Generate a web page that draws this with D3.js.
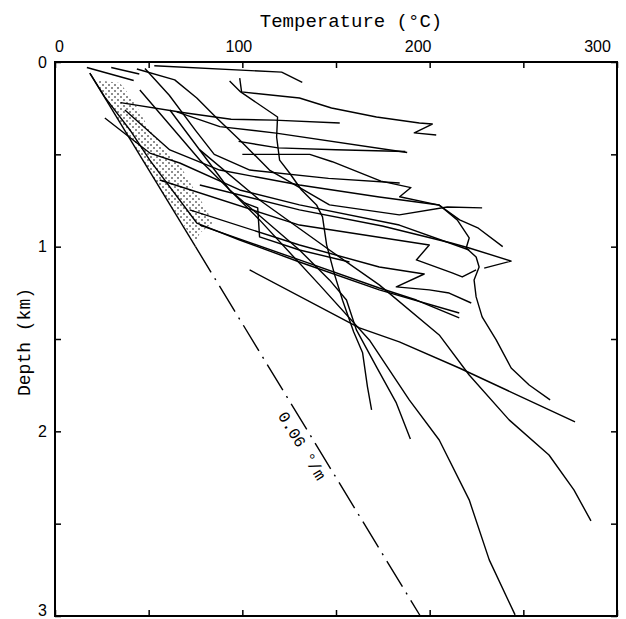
<!DOCTYPE html>
<html>
<head>
<meta charset="utf-8">
<script src="https://cdn.jsdelivr.net/npm/d3@7"></script>
<style>
body { margin: 0; background: #fff; }
</style>
</head>
<body>
<script>
var w = 626;
var h = 619;

// axis ticks
var xTicks = [0, 50, 100, 150, 200, 250, 300];
var xLabels = [0, 100, 200, 300];
var yTicks = [0, 0.5, 1, 1.5, 2, 2.5, 3];

// 0.06 deg/m reference gradient (T in degC, depth in km)
var gradSolid = [[18.6, 0.06], [75, 1.0]];
var gradDash = [[75, 1.0], [195, 3.0]];
var gradLabel = "0.06 °/m";

// stippled zone
var stipple = [[24,0.1],[34.6,0.114],[38.9,0.168],[43.7,0.244],[50.6,0.368],[55.9,0.439],
  [62.9,0.514],[68.2,0.585],[73.5,0.677],[81,0.801],[84.2,0.872],[77.3,0.926],[75,0.98],
  [55,0.67],[35,0.33],[22,0.12]];

// well profiles [temperature, depth]
var p01 = [[53,0.02],[121,0.055],[132,0.11]];
var p02 = [[17,0.03],[42,0.1]];
var p03 = [[30,0.03],[45,0.065]];
var p04 = [[93.2,0.103],[99.1,0.162],[118.8,0.298],[118.3,0.406],[119.9,0.531],[125.2,0.601],
  [131.6,0.693],[139.6,0.774],[142.8,0.839],[145,0.99],[149.2,1.15],[153.5,1.29],[159.4,1.461],
  [164.2,1.575],[166.8,1.759],[169,1.884]];
var p05 = [[98.6,0.087],[99.6,0.162],[130.5,0.195],[147.6,0.249],[171.6,0.298],[194.5,0.33],
  [201.4,0.336],[191.8,0.384],[203.5,0.395]];
var p06 = [[35,0.22],[69,0.275],[94,0.31],[117,0.315],[152,0.33]];
var p07 = [[65,0.27],[88,0.35],[118,0.385],[188,0.49]];
var p08 = [[98,0.43],[119,0.465],[150,0.475],[187,0.485]];
var p09 = [[100,0.5],[136,0.5],[148,0.54],[174,0.645],[190,0.68],[184,0.73],[205,0.775],
  [216,0.855],[226,0.9],[239,1.0]];
var p10 = [[37.3,0.26],[61.3,0.476],[87.9,0.585],[130.5,0.666],[173.1,0.731],[205.1,0.774],
  [214.7,0.855],[221.1,0.953],[219.5,1.007],[224.8,1.056],[226.4,1.11],[223.7,1.18],
  [224.8,1.272],[228,1.38],[235.5,1.505],[243.5,1.657],[253.1,1.749],[264.3,1.83]];
var p11 = [[77.3,0.666],[130.5,0.801],[174.7,0.888],[211.5,0.98],[221.1,1.007],[243.5,1.078],[229.1,1.116]];
var p12 = [[55.9,0.639],[130.5,0.883],[199.8,0.991],[192.9,1.072],[212,1.142],[217.4,1.164],[224.8,1.126]];
var p13 = [[71.9,0.801],[130.5,0.991],[173.1,1.11],[197.1,1.148],[182.2,1.218],[199.8,1.234],
  [210.4,1.251],[222.2,1.305]];
var p14 = [[77.3,0.883],[130.5,1.072],[173.1,1.224],[192.9,1.289],[215.8,1.386]];
var p15 = [[103.9,1.126],[162.5,1.44],[183.8,1.516],[215.8,1.657],[277.6,1.949]];
var p16 = [[77.3,0.476],[109.2,0.747],[146.5,1.018],[173.1,1.207],[205.1,1.478],[221.1,1.695],
  [242.4,1.938],[263.7,2.128],[277,2.317],[286.1,2.485]];
var p17 = [[45.3,0.152],[77.3,0.531],[109.2,0.855],[141.2,1.207],[167.8,1.505],[189.1,1.83],
  [205.1,2.047],[221.1,2.371],[231.8,2.696],[245.6,2.994]];
var p18 = [[61.3,0.26],[93.2,0.693],[130.5,1.018],[146.5,1.18],[155.6,1.289],[160.9,1.451],
  [171.6,1.651],[182.2,1.846],[189.7,2.041]];
var p19 = [[18.6,0.06],[26.6,0.19],[40,0.368],[50.6,0.531],[75.7,0.872],[98.6,0.964],
  [130.5,1.083],[173.1,1.234],[215.8,1.359]];
var p20 = [[26.6,0.303],[50.6,0.493],[66.6,0.547],[98.6,0.693],[130.5,0.774],[183.8,0.883],[221.1,1.018]];
var p21 = [[101.2,0.763],[108.2,0.79],[109.2,0.947],[130.5,1.018],[157.2,1.083]];
var p22 = [[43.7,0.038],[63.9,0.097],[75.7,0.195],[86.3,0.303],[98.6,0.422],[114.5,0.585],
  [146.5,0.774],[183.8,0.828],[209.4,0.785],[228,0.79]];
var p23 = [[48,0.035],[61,0.18],[75,0.37],[85,0.5],[104,0.585],[146,0.63],[184,0.655]];

var profiles = [p01,p02,p03,p04,p05,p06,p07,p08,p09,p10,p11,p12,p13,p14,p15,p16,p17,p18,p19,p20,p21,p22,p23];

var svg = d3.select("body")
  .append("svg")
  .attr("width", w)
  .attr("height", h);

var x = d3.scaleLinear().domain([0, 300]).range([55, 617]);
var y = d3.scaleLinear().domain([0, 3]).range([62, 616]);
// the printed tick numbers sit a little inside the tick marks
var xLab = d3.scaleLinear().domain([0, 300]).range([59, 597]);

var line = d3.line()
  .x(function(d){ return x(d[0]); })
  .y(function(d){ return y(d[1]); });

// dot pattern for the stippled zone
var pat = svg.append("defs").append("pattern")
  .attr("id", "dots")
  .attr("patternUnits", "userSpaceOnUse")
  .attr("width", 6).attr("height", 6);
pat.append("circle").attr("cx", 1).attr("cy", 1).attr("r", 0.8).attr("fill", "#000");
pat.append("circle").attr("cx", 4).attr("cy", 4).attr("r", 0.8).attr("fill", "#000");

svg.append("path")
  .attr("d", line(stipple) + "Z")
  .attr("fill", "url(#dots)");

// profiles
svg.selectAll("path.well")
  .data(profiles)
  .enter()
  .append("path")
  .attr("class", "well")
  .attr("d", line)
  .attr("fill", "none")
  .attr("stroke", "#000")
  .attr("stroke-width", 1.4)
  .attr("stroke-linejoin", "round");

// gradient line
svg.append("path")
  .attr("d", line(gradSolid))
  .attr("fill", "none").attr("stroke", "#000").attr("stroke-width", 1.4);
svg.append("path")
  .attr("d", line(gradDash))
  .attr("fill", "none").attr("stroke", "#000").attr("stroke-width", 1.4)
  .attr("stroke-dasharray", "30,7,2,7");

var ang = Math.atan2(y(1) - y(0), x(60) - x(0)) * 180 / Math.PI;
svg.append("text")
  .attr("transform", "translate(" + (x(15 + 60 * 2.05) - 16) + "," + (y(2.05) + 8) + ") rotate(" + ang + ")")
  .attr("text-anchor", "middle")
  .attr("font-family", "Liberation Mono, monospace")
  .attr("font-size", 16)
  .text(gradLabel);

// axes
function styleAxis(g) {
  g.select(".domain").remove();
  g.selectAll("line").attr("stroke", "#000").attr("stroke-width", 1.5);
  g.selectAll("text").attr("font-family", "Liberation Sans, Arial, sans-serif").attr("font-size", 16).attr("fill", "#000");
}

svg.append("g")
  .attr("transform", "translate(0," + y(0) + ")")
  .call(d3.axisTop(x).tickValues(xTicks).tickSize(-6).tickFormat(""))
  .call(styleAxis);
svg.append("g")
  .attr("transform", "translate(0," + y(0) + ")")
  .call(d3.axisTop(xLab).tickValues(xLabels).tickSize(0).tickPadding(10))
  .call(styleAxis);
svg.append("g")
  .attr("transform", "translate(0," + y(3) + ")")
  .call(d3.axisBottom(x).tickValues(xTicks).tickSize(-6).tickFormat(""))
  .call(styleAxis);
var yAxisG = svg.append("g")
  .attr("transform", "translate(" + x(0) + ",0)")
  .call(d3.axisLeft(y).tickValues(yTicks).tickSize(-6).tickPadding(8)
    .tickFormat(function(d){ return d % 1 === 0 ? d : ""; }))
  .call(styleAxis);
// keep the bottom "3" inside the page
yAxisG.selectAll("text").filter(function(d){ return d === 3; }).attr("dy", "-0.05em");
svg.append("g")
  .attr("transform", "translate(" + x(300) + ",0)")
  .call(d3.axisRight(y).tickValues(yTicks).tickSize(-6).tickFormat(""))
  .call(styleAxis);

svg.append("rect")
  .attr("x", x(0)).attr("y", y(0))
  .attr("width", x(300) - x(0)).attr("height", y(3) - y(0))
  .attr("fill", "none").attr("stroke", "#000").attr("stroke-width", 2);

// titles
svg.append("text")
  .attr("x", 351).attr("y", 27)
  .attr("text-anchor", "middle")
  .attr("font-family", "Liberation Mono, monospace")
  .attr("font-size", 19)
  .text("Temperature (°C)");
svg.append("text")
  .attr("transform", "translate(30," + 342 + ") rotate(-90)")
  .attr("text-anchor", "middle")
  .attr("font-family", "Liberation Mono, monospace")
  .attr("font-size", 18)
  .text("Depth (km)");
</script>
</body>
</html>
